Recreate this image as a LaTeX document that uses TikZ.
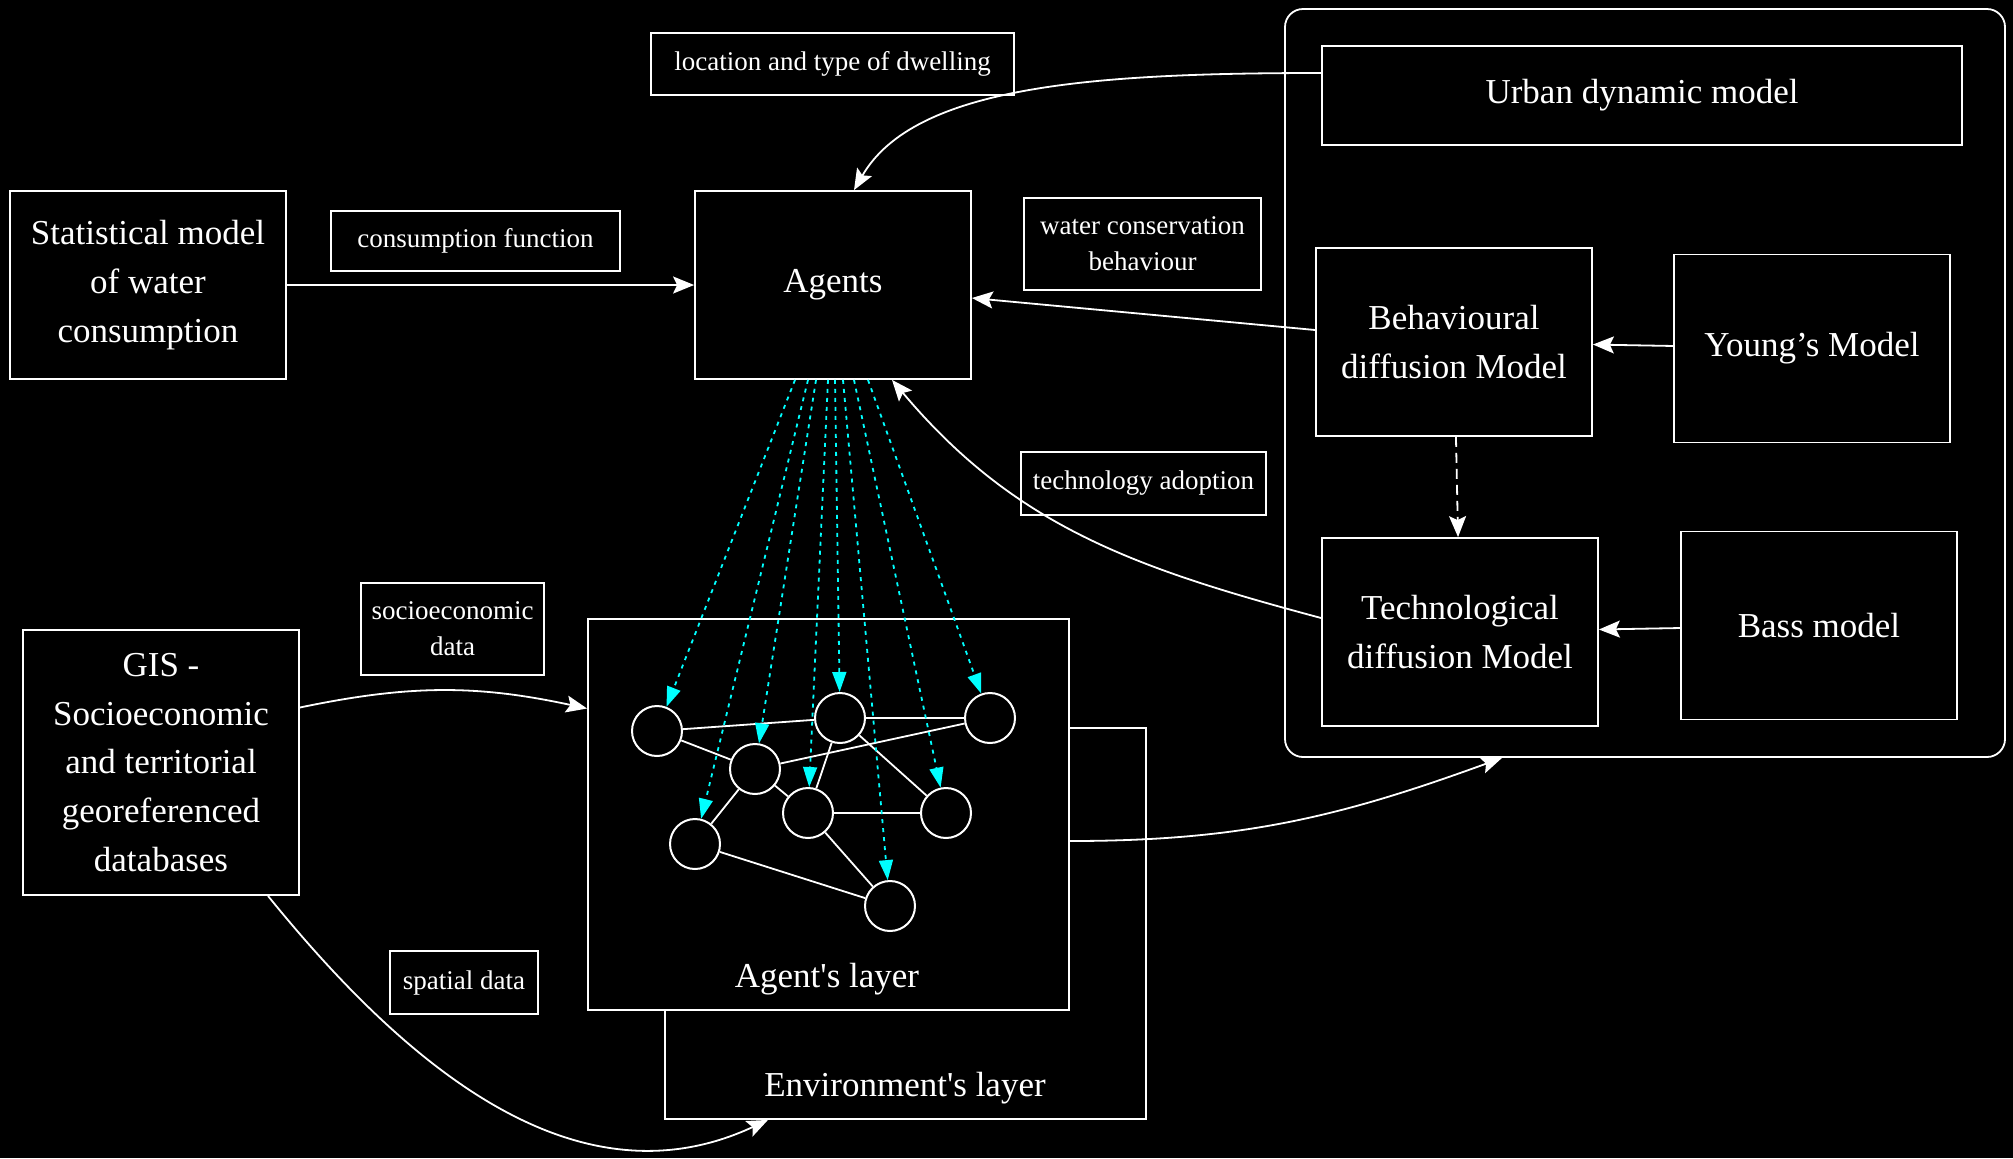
\documentclass[tikz,border=0pt]{standalone}
\usepackage{fontspec}
\setmainfont{Liberation Serif}
\usetikzlibrary{arrows.meta,positioning}
\definecolor{aqua}{RGB}{0,255,255}

\begin{document}
\begin{tikzpicture}[x=0.5pt,y=0.5pt,
    model/.style={draw=white,line width=0.9pt,fill=black,text=white,align=center,
      minimum width=138pt,minimum height=94pt,inner sep=2pt,
      font=\fontsize{17.5}{24.4}\selectfont},
    tag/.style={draw=white,line width=0.9pt,fill=black,text=white,align=center,
      inner sep=2pt,font=\fontsize{13.5}{18}\selectfont},
    layer/.style={draw=white,line width=0.9pt,fill=black,
      minimum width=240.5pt,minimum height=195.5pt},
    layername/.style={text=white,font=\fontsize{17.5}{24.4}\selectfont},
    agent/.style={circle,draw=white,line width=1pt,fill=black,minimum size=25pt,inner sep=0pt},
    flow/.style={draw=white,line width=0.9pt,-{Stealth[length=10.5pt,width=8.5pt,inset=2pt]}},
    link/.style={draw=white,line width=0.9pt},
    spread/.style={draw=aqua,line width=0.9pt,dash pattern=on 2pt off 2.5pt,
      -{Triangle[length=10pt,width=7pt]}}]
    \useasboundingbox (0,0) rectangle (2013,-1158);
    \fill[black] (0,0) rectangle (2013,-1158);

    % models on the right
    \node[draw=white,line width=0.9pt,rounded corners=9pt,minimum width=360pt,minimum height=374pt] (group) at (1645,-383) {};
    \node[model,minimum width=320pt,minimum height=49.5pt] (urban) at (1642,-95.5) {Urban dynamic model};
    \node[model] (behav) at (1454,-342) {Behavioural\\diffusion Model};
    \node[model] (young) at (1812,-348.5) {Young’s Model};
    \node[model] (tech) at (1460,-632) {Technological\\diffusion Model};
    \node[model] (bass) at (1819,-625.5) {Bass model};

    % inputs
    \node[model] (stat) at (148,-285) {Statistical model\\of water\\consumption};
    \node[model] (agents) at (833,-285) {Agents};
    \node[model,minimum height=132.5pt] (gis) at (161,-762.5) {GIS -\\Socioeconomic\\and territorial\\georeferenced\\databases};

    \node[tag,minimum width=181.5pt,minimum height=31pt] (dwelling) at (832.5,-64) {location and type of dwelling};
    \node[tag,minimum width=144.5pt,minimum height=30pt] (consfn) at (475.5,-241) {consumption function};
    \node[tag,minimum width=118.5pt,minimum height=46pt] (conserv) at (1142.5,-244) {water conservation\\behaviour};
    \node[tag,minimum width=122.5pt,minimum height=31.5pt] (adopt) at (1143.5,-483.5) {technology adoption};
    \node[tag,minimum width=91.5pt,minimum height=46pt] (socio) at (452.5,-629) {socioeconomic\\data};
    \node[tag,minimum width=74pt,minimum height=31.5pt] (spatial) at (464,-982.5) {spatial data};

    % layers
    \node[layer] (elayer) at (905.5,-923.5) {};
    \node[layer] (alayer) at (828.5,-814.5) {};
    \node[layername] (elayerlbl) at (905,-1088) {Environment\textquotesingle s layer};
    \node[layername] (alayerlbl) at (827,-979) {Agent\textquotesingle s layer};

    \node[agent] (a1) at (657,-731) {};
    \node[agent] (a2) at (755,-769) {};
    \node[agent] (a3) at (840,-718) {};
    \node[agent] (a4) at (990,-718) {};
    \node[agent] (a5) at (808,-813) {};
    \node[agent] (a6) at (946,-813) {};
    \node[agent] (a7) at (695,-844) {};
    \node[agent] (a8) at (890,-906) {};

    \foreach \u/\v in {a1/a3,a1/a2,a3/a4,a2/a4,a2/a5,a2/a7,a3/a5,a3/a6,a5/a6,a5/a8,a7/a8}
      \draw[link] (\u) -- (\v);
    \foreach \dx/\v in {-19/a1,-12.5/a7,-8.5/a2,-2.5/a5,1/a3,5/a8,10.5/a6,17.5/a4}
      \draw[spread] ([xshift=\dx pt]agents.south) -- (\v);

    % connectors
    \draw[flow] (stat) -- (agents);
    \draw[flow] ([yshift=11.25pt]urban.west) .. controls +(-230,0) and +(60,104) .. ([xshift=10.5pt]agents.north);
    \draw[flow] ([yshift=6pt]behav.west) -- ([yshift=-6.5pt]agents.east);
    \draw[flow] ([yshift=7pt]tech.west) to[out=165,in=-50] ([xshift=29.5pt]agents.south);
    \draw[flow] ([yshift=27.5pt]gis.east) to[bend left=12] ([yshift=53pt]alayer.west);
    \draw[flow] ([xshift=53.5pt]gis.south) to[out=-51,in=205] ([xshift=-68.75pt]elayer.south);
    \draw[flow] ([yshift=-13.25pt]alayer.east) to[out=0,in=200] ([xshift=-71.5pt]group.south);
    \draw[flow] (young) -- (behav);
    \draw[flow] (bass) -- (tech);
    \draw[flow,dash pattern=on 5pt off 3pt] (behav) -- (tech);
\end{tikzpicture}
\end{document}
